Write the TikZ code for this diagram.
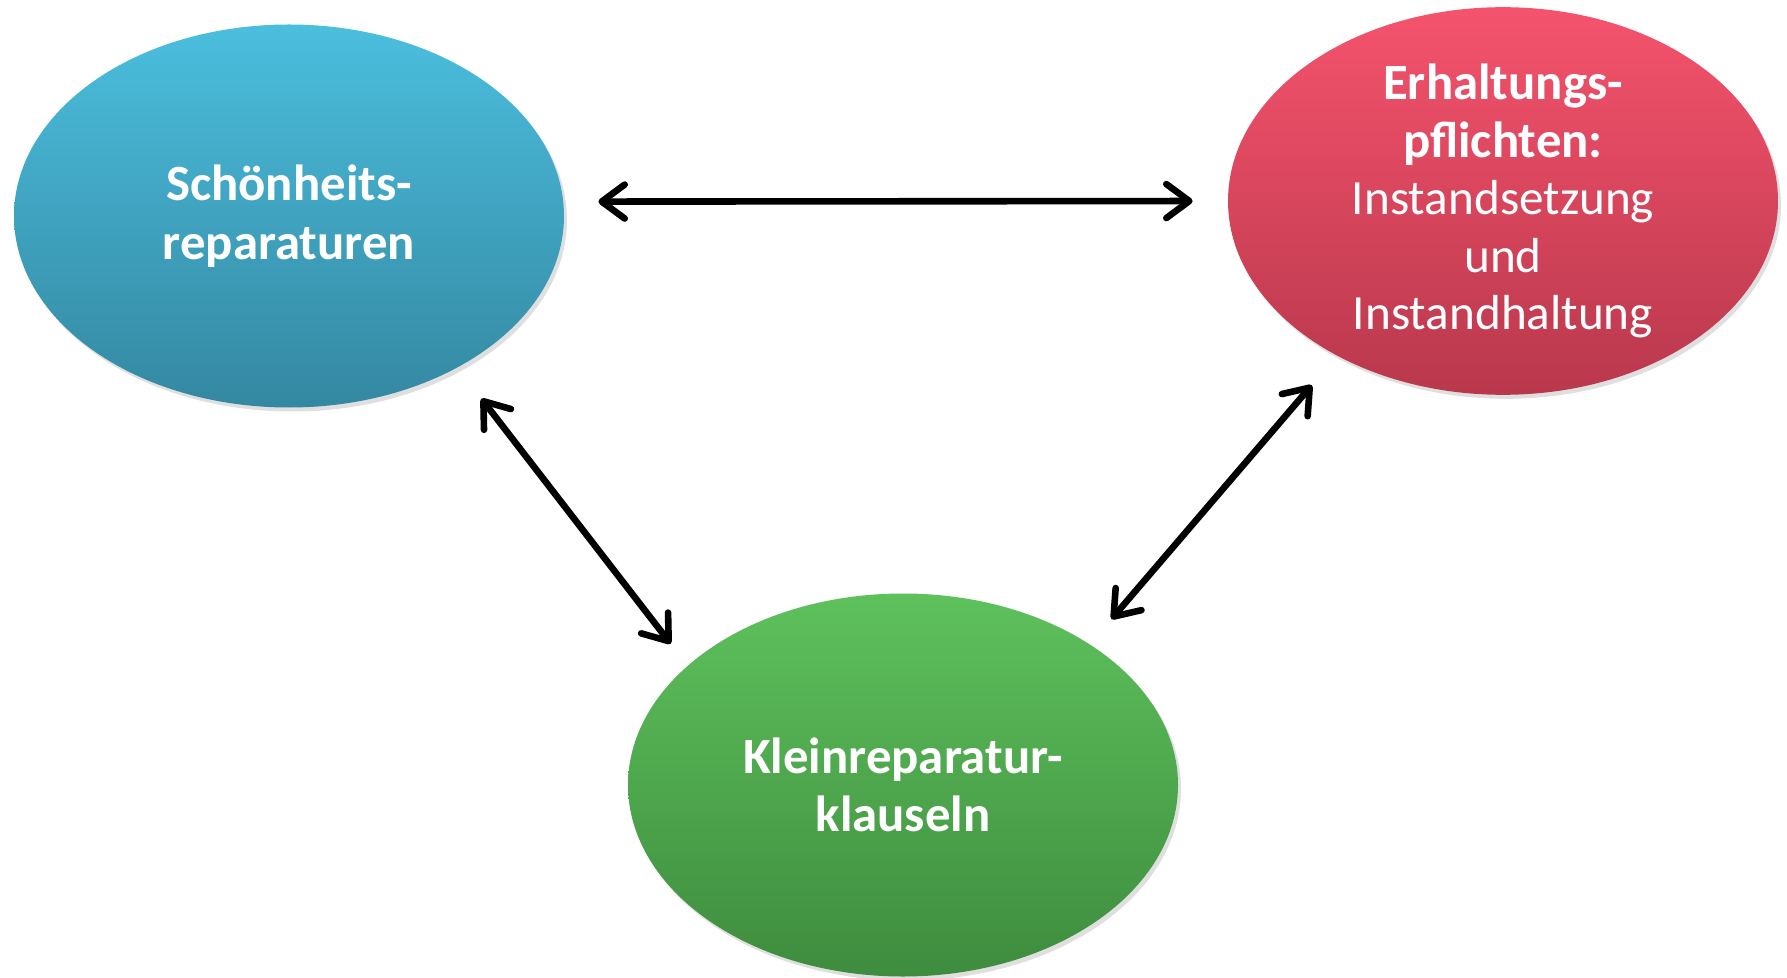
\documentclass[tikz,border=0pt]{standalone}
\usepackage{fontspec}
\setmainfont{Carlito}
\usepackage{tikz}
\usetikzlibrary{positioning,arrows.meta,calc,shapes.geometric,shadows}

\definecolor{blueTop}{HTML}{4BBEDE}
\definecolor{blueBot}{HTML}{3488A1}
\definecolor{redTop}{HTML}{F5536D}
\definecolor{redBot}{HTML}{B9384C}
\definecolor{greenTop}{HTML}{5EC15C}
\definecolor{greenBot}{HTML}{3E8C3E}

\newcommand{\hd}[1]{{\fontsize{25.4}{28.75}\selectfont\bfseries #1}}

\begin{document}
\begin{tikzpicture}[
  x=0.5pt, y=-0.5pt,
  bubble/.style={ellipse, inner sep=0pt, minimum width=275pt, minimum height=191.5pt,
    align=center, text=white, font=\fontsize{24.6}{28.75}\selectfont,
    drop shadow={opacity=0.25, shadow xshift=1.5pt, shadow yshift=-2pt}},
  arr/.style={{Straight Barb[length=11.5pt, width=17pt, round]}-{Straight Barb[length=11.5pt, width=17pt, round]},
    line width=3.3pt, black}
]
\useasboundingbox (0,0) rectangle (1787,978);
\node[bubble, top color=blueTop, bottom color=blueBot] (schoen) at (289,216)
  {\hd{Schönheits-}\\[1pt] \hd{reparaturen}};
\node[bubble, top color=redTop, bottom color=redBot] (erhalt) at (1503,201)
  {\hd{Erhaltungs-}\\ \hd{pflichten:}\\ Instandsetzung\\ und\\ Instandhaltung};
\node[bubble, top color=greenTop, bottom color=greenBot] (klein) at (903,785)
  {\hd{Kleinreparatur-}\\ \hd{klauseln}};
\draw[arr, shorten <=17.4pt, shorten >=17.5pt] (schoen.3.3) -- (erhalt.west);
\draw[arr, shorten <=19.5pt, shorten >=13.75pt] (schoen.-42.5) -- (klein.151.6);
\draw[arr, shorten <=19.25pt, shorten >=16.5pt] (erhalt.-137.1) -- (klein.37.6);
\end{tikzpicture}
\end{document}
